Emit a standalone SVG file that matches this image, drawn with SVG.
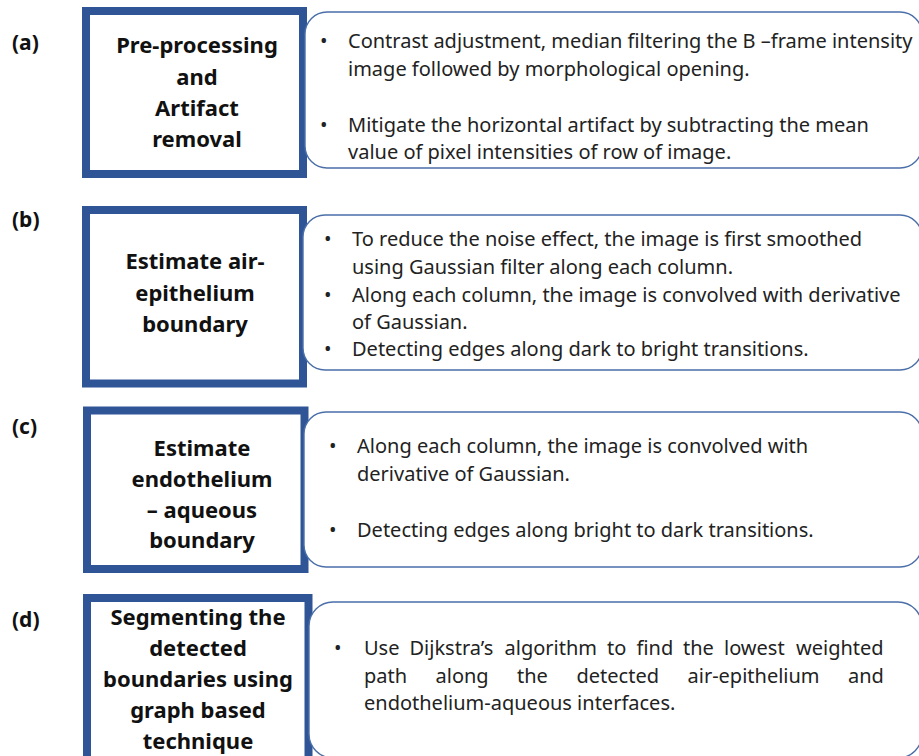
<svg xmlns="http://www.w3.org/2000/svg" width="919" height="756" viewBox="0 0 919 756">
<style>
.step{fill:#fff;stroke:#2F5597;stroke-width:8}
.desc{fill:#fff;stroke:#4A6EA8;stroke-width:1.4}
.lbl{font-family:"Noto Sans","Liberation Sans",sans-serif;font-weight:bold;font-size:21px;fill:#111}
.ttl{font-family:"Noto Sans","Liberation Sans",sans-serif;font-weight:bold;font-size:22px;fill:#111;text-anchor:middle}
.txt{font-family:"Noto Sans","Liberation Sans",sans-serif;font-size:20px;fill:#222}
</style>
<rect width="919" height="756" fill="#fff"/>
<g id="connectors"></g>
<g id="label-a"><text class="lbl" x="12" y="50">(a)</text></g>
<g id="label-b"><text class="lbl" x="12" y="227">(b)</text></g>
<g id="label-c"><text class="lbl" x="12" y="434">(c)</text></g>
<g id="label-d"><text class="lbl" x="12" y="627">(d)</text></g>

<g id="step-a">
<rect class="step" x="86" y="11" width="217" height="163"/>
<text class="ttl" x="197" y="53">Pre-processing</text>
<text class="ttl" x="197" y="84.5">and</text>
<text class="ttl" x="197" y="116">Artifact</text>
<text class="ttl" x="197" y="147">removal</text>
</g>
<g id="desc-a">
<rect class="desc" x="305" y="12" width="617" height="156" rx="22"/>
<text class="txt" x="320" y="48">•</text>
<text class="txt" x="348" y="48">Contrast adjustment, median filtering the B –frame intensity</text>
<text class="txt" x="348" y="76">image followed by morphological opening.</text>
<text class="txt" x="320" y="132">•</text>
<text class="txt" x="348" y="132">Mitigate the horizontal artifact by subtracting the mean</text>
<text class="txt" x="348" y="159">value of pixel intensities of row of image.</text>
</g>

<g id="step-b">
<rect class="step" x="86" y="210" width="217" height="173.5"/>
<text class="ttl" x="195" y="269">Estimate air-</text>
<text class="ttl" x="195" y="301">epithelium</text>
<text class="ttl" x="195" y="332">boundary</text>
</g>
<g id="desc-b">
<rect class="desc" x="303" y="215" width="619" height="155" rx="22"/>
<text class="txt" x="324" y="246">•</text>
<text class="txt" x="352" y="246">To reduce the noise effect, the image is first smoothed</text>
<text class="txt" x="352" y="274">using Gaussian filter along each column.</text>
<text class="txt" x="324" y="302">•</text>
<text class="txt" x="352" y="302">Along each column, the image is convolved with derivative</text>
<text class="txt" x="352" y="329">of Gaussian.</text>
<text class="txt" x="324" y="356">•</text>
<text class="txt" x="352" y="356">Detecting edges along dark to bright transitions.</text>
</g>

<g id="step-c">
<rect class="step" x="87" y="410.5" width="217.5" height="158.5"/>
<text class="ttl" x="202" y="456">Estimate</text>
<text class="ttl" x="202" y="487">endothelium</text>
<text class="ttl" x="202" y="518">– aqueous</text>
<text class="ttl" x="202" y="548">boundary</text>
</g>
<g id="desc-c">
<rect class="desc" x="304" y="412" width="618" height="155" rx="22"/>
<text class="txt" x="329" y="453">•</text>
<text class="txt" x="357" y="453">Along each column, the image is convolved with</text>
<text class="txt" x="357" y="481">derivative of Gaussian.</text>
<text class="txt" x="329" y="537">•</text>
<text class="txt" x="357" y="537">Detecting edges along bright to dark transitions.</text>
</g>

<g id="step-d">
<rect class="step" x="87" y="598" width="221.5" height="170"/>
<text class="ttl" x="198" y="625">Segmenting the</text>
<text class="ttl" x="198" y="656">detected</text>
<text class="ttl" x="198" y="687">boundaries using</text>
<text class="ttl" x="198" y="718">graph based</text>
<text class="ttl" x="198" y="749">technique</text>
</g>
<g id="desc-d">
<rect class="desc" x="309" y="602" width="613" height="156" rx="24"/>
<text class="txt" x="334" y="655">•</text>
<text class="txt" y="655"><tspan x="364">Use</tspan> <tspan x="409.5">Dijkstra’s</tspan> <tspan x="504.5">algorithm</tspan> <tspan x="607">to</tspan> <tspan x="636.5">find</tspan> <tspan x="683">the</tspan> <tspan x="724">lowest</tspan> <tspan x="796">weighted</tspan></text>
<text class="txt" y="683"><tspan x="364">path</tspan> <tspan x="435.5">along</tspan> <tspan x="517">the</tspan> <tspan x="576.5">detected</tspan> <tspan x="687.5">air-epithelium</tspan> <tspan x="848">and</tspan></text>
<text class="txt" x="364" y="710">endothelium-aqueous interfaces.</text>
</g>
</svg>
